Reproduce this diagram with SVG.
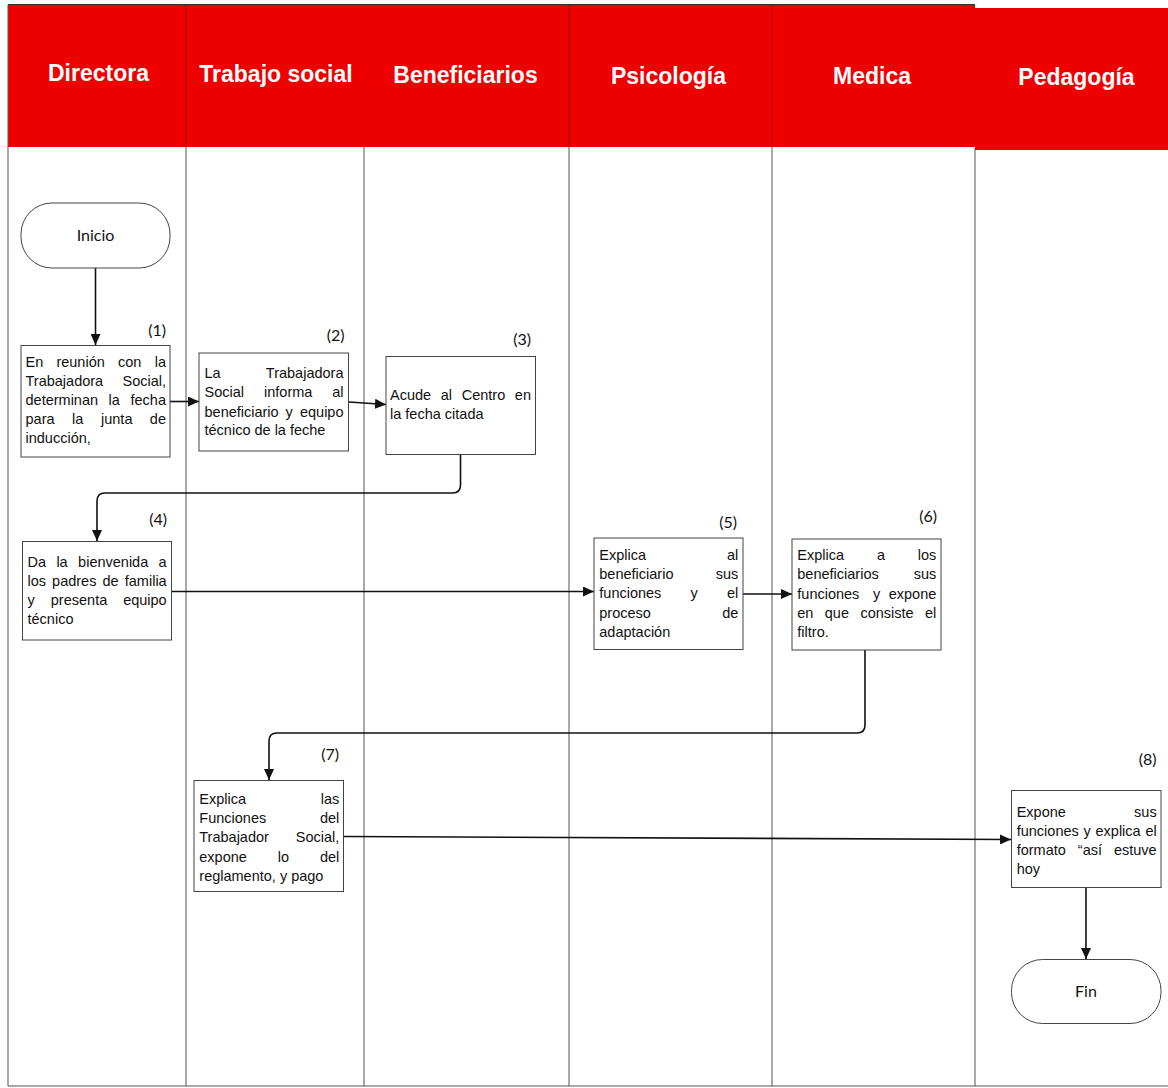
<svg xmlns="http://www.w3.org/2000/svg" width="1168" height="1088" viewBox="0 0 1168 1088">
<style>
.hd{fill:#ee0000}
.ht{font-family:"Liberation Sans",Arial,sans-serif;font-weight:bold;font-size:23px;fill:#fff;text-anchor:middle}
.lane{stroke:#555;stroke-width:1;fill:none}
.box{fill:#fff;stroke:#444;stroke-width:1}
.t{font-family:"Liberation Sans",Arial,sans-serif;font-size:14.5px;fill:#111}
.r{text-anchor:end}
.n{font-family:Lato,"Liberation Sans",sans-serif;font-size:16px;fill:#111;text-anchor:end}
.tm{font-family:Lato,"Liberation Sans",sans-serif;font-size:16px;fill:#111;text-anchor:middle}
.c{fill:none;stroke:#111;stroke-width:1.6}
</style>
<defs>
<marker id="ah" markerUnits="userSpaceOnUse" markerWidth="11" markerHeight="10" refX="11" refY="5" orient="auto">
<path d="M0,0 L11,5 L0,10 z" fill="#111"/>
</marker>
</defs>
<rect x="0" y="0" width="1168" height="1088" fill="#fff"/>
<g id="lanes">
<rect class="hd" x="8" y="5" width="967" height="142"/>
<rect class="hd" x="975" y="8" width="193" height="142"/>
<line x1="8" y1="4.5" x2="975" y2="4.5" stroke="#333" stroke-width="1.2"/>
<line x1="186" y1="5" x2="186" y2="147" stroke="#9a0000" stroke-width="1"/>
<line x1="569" y1="5" x2="569" y2="147" stroke="#9a0000" stroke-width="1"/>
<line x1="772" y1="5" x2="772" y2="147" stroke="#9a0000" stroke-width="1"/>
<path class="lane" d="M8,5 V1086 M186,147 V1086 M364,147 V1086 M569,147 V1086 M772,147 V1086 M975,148 V1086 M8,1086 H1168"/>
<text class="ht" x="98.5" y="81">Directora</text>
<text class="ht" x="276" y="82">Trabajo social</text>
<text class="ht" x="465.5" y="83">Beneficiarios</text>
<text class="ht" x="668.5" y="84">Psicología</text>
<text class="ht" x="872" y="84">Medica</text>
<text class="ht" x="1076.5" y="85">Pedagogía</text>
</g>
<g id="connectors">
<path class="c" d="M95.5,268 V345" marker-end="url(#ah)"/>
<path class="c" d="M170,401.5 H199" marker-end="url(#ah)"/>
<path class="c" d="M349,402 L386,404.5" marker-end="url(#ah)"/>
<path class="c" d="M460.5,455 V485 Q460.5,493 452.5,493 H105 Q97,493 97,501 V541" marker-end="url(#ah)"/>
<path class="c" d="M172,591.5 H594" marker-end="url(#ah)"/>
<path class="c" d="M743,594 H792" marker-end="url(#ah)"/>
<path class="c" d="M865,650 V725 Q865,733 857,733 H277 Q269,733 269,741 V780" marker-end="url(#ah)"/>
<path class="c" d="M344,836.5 L1011,839.5" marker-end="url(#ah)"/>
<path class="c" d="M1086,887 V959" marker-end="url(#ah)"/>
</g>
<g id="inicio">
<rect class="box" x="21" y="203" width="149" height="65" rx="31" ry="31"/>
<text class="tm" x="95.5" y="241">Inicio</text>
</g>
<g id="n1">
<text class="n" x="166" y="336">(1)</text>
<rect class="box" x="21" y="345.5" width="149" height="111.5"/>
<text class="t" y="367"><tspan x="25.5">En</tspan><tspan x="56.4">reunión</tspan><tspan x="118">con</tspan></text>
<text class="t r" x="166" y="367">la</text>
<text class="t" x="25.5" y="386">Trabajadora</text><text class="t r" x="166" y="386">Social,</text>
<text class="t" y="405"><tspan x="25.5">determinan</tspan><tspan x="108.6">la</tspan></text>
<text class="t r" x="166" y="405">fecha</text>
<text class="t" y="424"><tspan x="25.5">para</tspan><tspan x="72.1">la</tspan><tspan x="101">junta</tspan></text>
<text class="t r" x="166" y="424">de</text>
<text class="t" x="25.5" y="443">inducción,</text>
</g>
<g id="n2">
<text class="n" x="344.5" y="341">(2)</text>
<rect class="box" x="199" y="353" width="149.5" height="98"/>
<text class="t" x="204.5" y="378">La</text><text class="t r" x="343.5" y="378">Trabajadora</text>
<text class="t" y="397"><tspan x="204.5">Social</tspan><tspan x="264">informa</tspan></text>
<text class="t r" x="343.5" y="397">al</text>
<text class="t" y="416.5"><tspan x="204.5">beneficiario</tspan><tspan x="285.6">y</tspan></text>
<text class="t r" x="343.5" y="416.5">equipo</text>
<text class="t" x="204.5" y="435">técnico de la feche</text>
</g>
<g id="n3">
<text class="n" x="531" y="345">(3)</text>
<rect class="box" x="386" y="356.5" width="149.5" height="98"/>
<text class="t" y="400"><tspan x="390">Acude</tspan><tspan x="440.8">al</tspan><tspan x="461.7">Centro</tspan></text>
<text class="t r" x="531" y="400">en</text>
<text class="t" x="390" y="419">la fecha citada</text>
</g>
<g id="n4">
<text class="n" x="167" y="525">(4)</text>
<rect class="box" x="22.5" y="541.5" width="149" height="98.5"/>
<text class="t" y="566.5"><tspan x="27.5">Da</tspan><tspan x="56.4">la</tspan><tspan x="78.1">bienvenida</tspan></text>
<text class="t r" x="166.7" y="566.5">a</text>
<text class="t" y="585.5"><tspan x="27.5">los</tspan><tspan x="52.1">padres</tspan><tspan x="102.5">de</tspan></text>
<text class="t r" x="166.7" y="585.5">familia</text>
<text class="t" y="604.5"><tspan x="27.5">y</tspan><tspan x="50.8">presenta</tspan></text>
<text class="t r" x="166.7" y="604.5">equipo</text>
<text class="t" x="27.5" y="623.5">técnico</text>
</g>
<g id="n5">
<text class="n" x="737" y="528">(5)</text>
<rect class="box" x="594" y="538" width="149" height="111.5"/>
<text class="t" x="599.3" y="559.5">Explica</text><text class="t r" x="738.3" y="559.5">al</text>
<text class="t" x="599.3" y="578.5">beneficiario</text><text class="t r" x="738.3" y="578.5">sus</text>
<text class="t" y="598"><tspan x="599.3">funciones</tspan><tspan x="690.6">y</tspan></text>
<text class="t r" x="738.3" y="598">el</text>
<text class="t" x="599.3" y="617.5">proceso</text><text class="t r" x="738.3" y="617.5">de</text>
<text class="t" x="599.3" y="636.5">adaptación</text>
</g>
<g id="n6">
<text class="n" x="937" y="522">(6)</text>
<rect class="box" x="792" y="539" width="149" height="111"/>
<text class="t" y="560"><tspan x="797.3">Explica</tspan><tspan x="876.9">a</tspan></text>
<text class="t r" x="936.3" y="560">los</text>
<text class="t" x="797.3" y="579">beneficiarios</text><text class="t r" x="936.3" y="579">sus</text>
<text class="t" y="598.5"><tspan x="797.3">funciones</tspan><tspan x="873">y</tspan></text>
<text class="t r" x="936.3" y="598.5">expone</text>
<text class="t" y="618"><tspan x="797.3">en</tspan><tspan x="824.8">que</tspan><tspan x="860.4">consiste</tspan></text>
<text class="t r" x="936.3" y="618">el</text>
<text class="t" x="797.3" y="637">filtro.</text>
</g>
<g id="n7">
<text class="n" x="339" y="760">(7)</text>
<rect class="box" x="194" y="780.5" width="149.5" height="111"/>
<text class="t" x="199.3" y="804">Explica</text><text class="t r" x="339.3" y="804">las</text>
<text class="t" x="199.3" y="823">Funciones</text><text class="t r" x="339.3" y="823">del</text>
<text class="t" x="199.3" y="842">Trabajador</text><text class="t r" x="339.3" y="842">Social,</text>
<text class="t" y="861.5"><tspan x="199.3">expone</tspan><tspan x="277.8">lo</tspan></text>
<text class="t r" x="339.3" y="861.5">del</text>
<text class="t" x="199.3" y="880.5">reglamento, y pago</text>
</g>
<g id="n8">
<text class="n" x="1156.5" y="765">(8)</text>
<rect class="box" x="1011.5" y="790.5" width="149.5" height="97"/>
<text class="t" x="1016.7" y="816.5">Expone</text><text class="t r" x="1156.7" y="816.5">sus</text>
<text class="t" y="835.5"><tspan x="1016.7">funciones</tspan><tspan x="1083.5">y</tspan><tspan x="1095.5">explica</tspan></text>
<text class="t r" x="1156.7" y="835.5">el</text>
<text class="t" y="854.5"><tspan x="1016.7">formato</tspan><tspan x="1077.8">“así</tspan></text>
<text class="t r" x="1156.7" y="854.5">estuve</text>
<text class="t" x="1016.7" y="873.5">hoy</text>
</g>
<g id="fin">
<rect class="box" x="1011.5" y="959.5" width="149.5" height="64" rx="31" ry="31"/>
<text class="tm" x="1086" y="997">Fin</text>
</g>
</svg>
